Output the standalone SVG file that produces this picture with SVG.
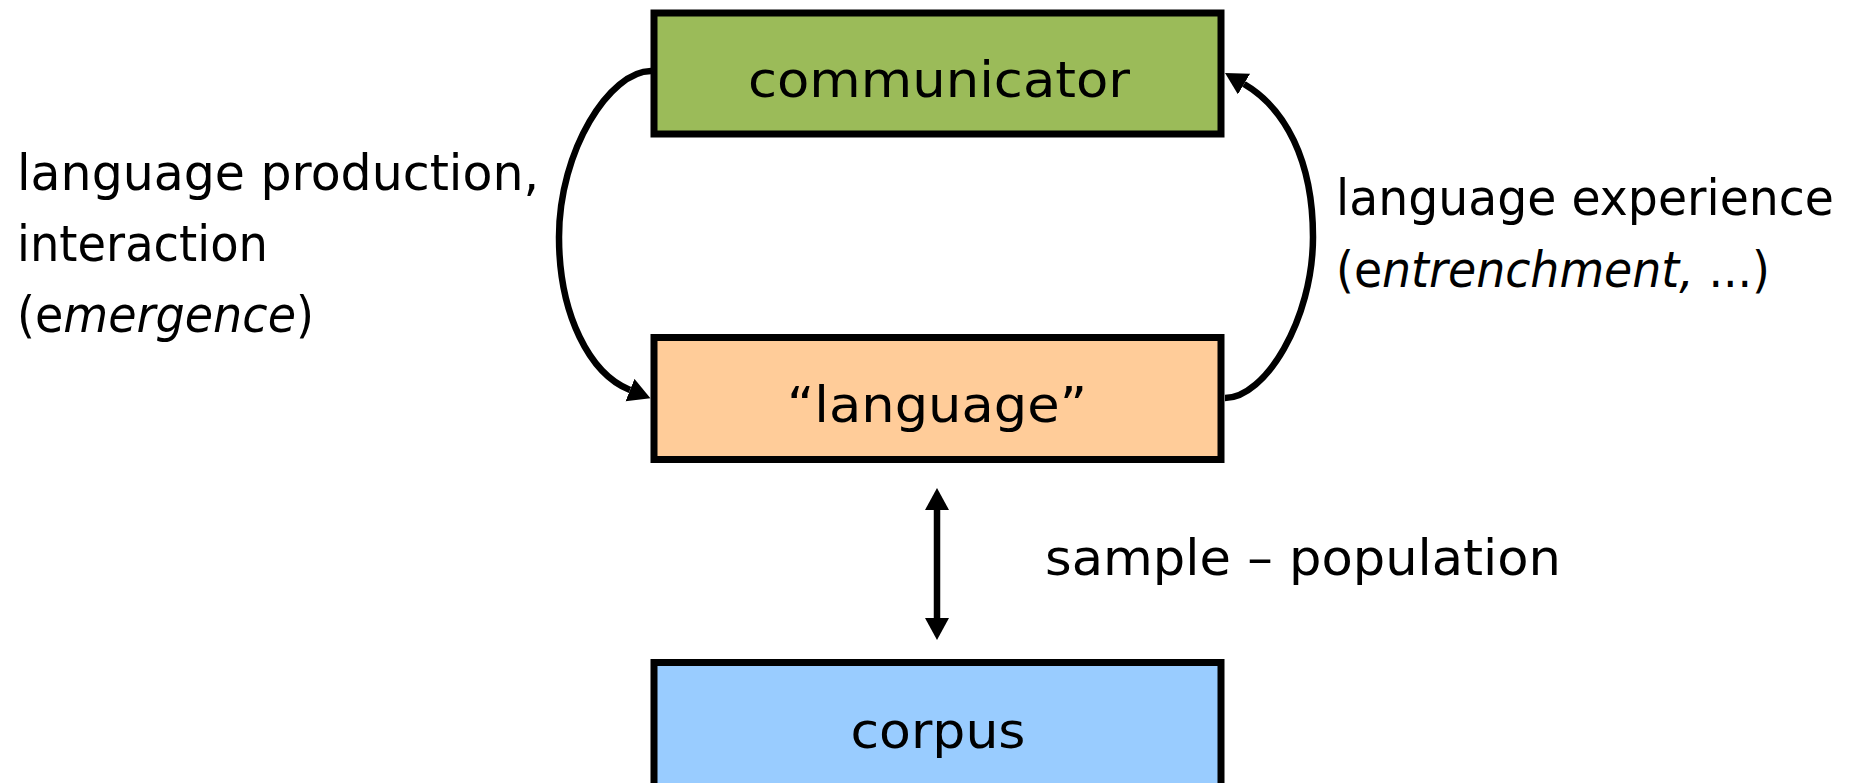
<svg xmlns="http://www.w3.org/2000/svg" width="1857" height="783" viewBox="0 0 1857 783">
<style>
.box{stroke:#000;stroke-width:7}
.t{font-family:"DejaVu Sans","Liberation Sans",sans-serif;font-size:50px;fill:#000}
.c{text-anchor:middle}
.conn{fill:none;stroke:#000;stroke-width:6.5}
.i{font-style:italic}
</style>
<defs>
<marker id="ah" markerUnits="userSpaceOnUse" markerWidth="26" markerHeight="26" refX="0" refY="12" orient="auto-start-reverse" viewBox="0 0 26 26">
<path d="M0,0 L22,12 L0,24 z" fill="#000"/>
</marker>
</defs>
<rect width="1857" height="783" fill="#fff"/>
<g id="connectors">
<path class="conn" d="M651 71 C610 71 559 150 559 237 C559 315 590 374 630 390" marker-end="url(#ah)"/>
<path class="conn" d="M1225 398 C1265 398 1313 320 1313 237 C1313 160 1285 108 1244 84" marker-end="url(#ah)"/>
<line class="conn" x1="937" y1="510" x2="937" y2="618" stroke-width="7" marker-start="url(#ah)" marker-end="url(#ah)"/>
</g>
<g id="communicator">
<rect class="box" x="654" y="13" width="567" height="121" fill="#9BBB59"/>
<text class="t c" x="939" y="97" textLength="382" lengthAdjust="spacingAndGlyphs">communicator</text>
</g>
<g id="language">
<rect class="box" x="654" y="337.5" width="567" height="122" fill="#FFCC99"/>
<text class="t c" x="937" y="421.5" textLength="300" lengthAdjust="spacingAndGlyphs">“language”</text>
</g>
<g id="corpus">
<rect class="box" x="654" y="662.5" width="567" height="140" fill="#99CCFF"/>
<text class="t c" x="938" y="748" textLength="175" lengthAdjust="spacingAndGlyphs">corpus</text>
</g>
<g id="label-left">
<text class="t" x="17" y="190" textLength="522" lengthAdjust="spacingAndGlyphs">language production,</text>
<text class="t" x="17" y="261" textLength="251" lengthAdjust="spacingAndGlyphs">interaction</text>
<text class="t" x="17" y="332" textLength="297" lengthAdjust="spacingAndGlyphs">(e<tspan class="i">mergence</tspan>)</text>
</g>
<g id="label-right">
<text class="t" x="1336" y="215" textLength="498" lengthAdjust="spacingAndGlyphs">language experience</text>
<text class="t" x="1336" y="287" textLength="434" lengthAdjust="spacingAndGlyphs">(e<tspan class="i">ntrenchment,</tspan> ...)</text>
</g>
<g id="label-bottom">
<text class="t" x="1045" y="575" textLength="516" lengthAdjust="spacingAndGlyphs">sample – population</text>
</g>
</svg>
